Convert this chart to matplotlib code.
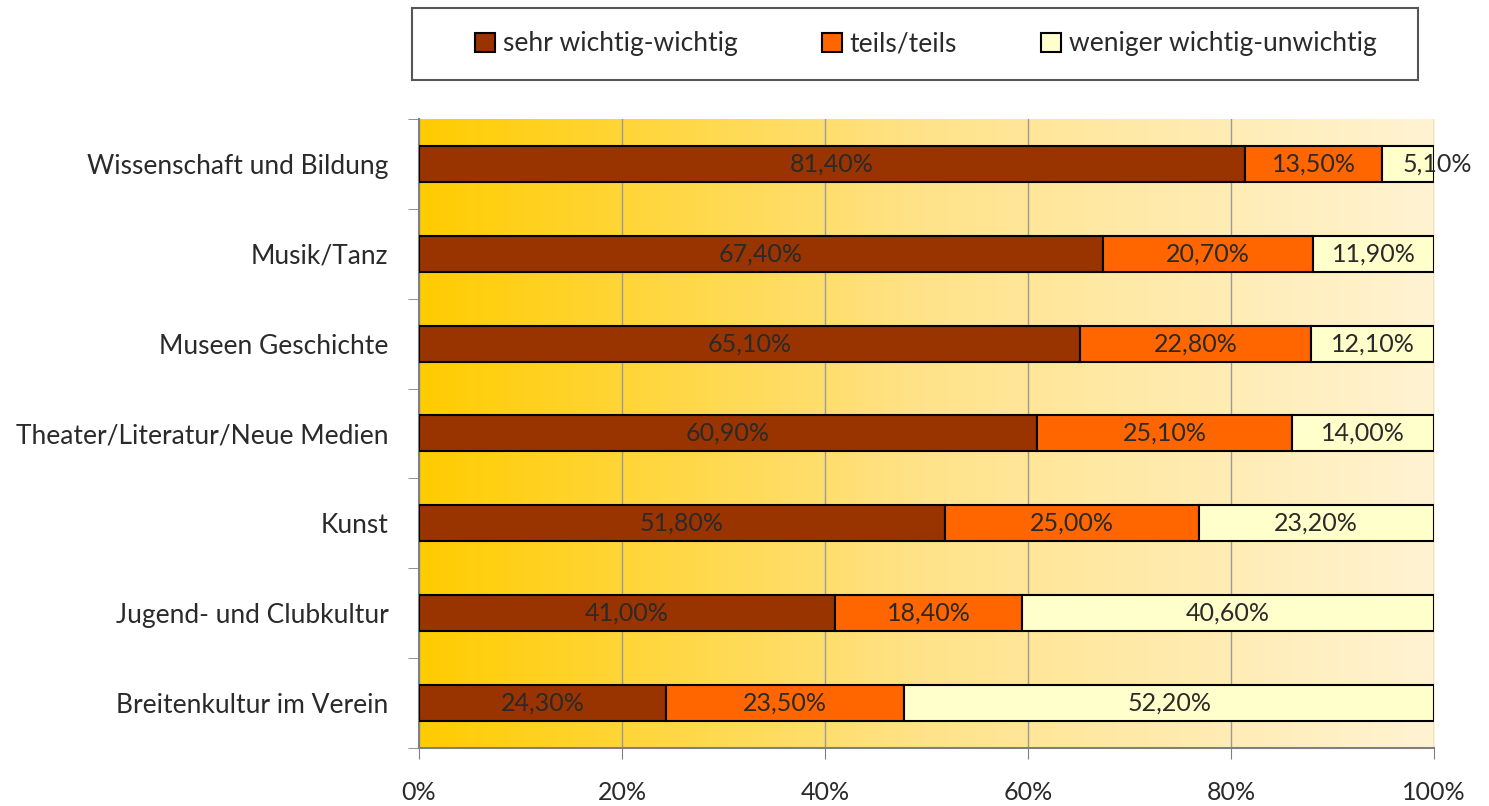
import numpy as np
import matplotlib.pyplot as plt
from matplotlib.colors import LinearSegmentedColormap
from matplotlib.patches import Patch, Rectangle

categories = ["Wissenschaft und Bildung", "Musik/Tanz", "Museen Geschichte",
              "Theater/Literatur/Neue Medien", "Kunst", "Jugend- und Clubkultur",
              "Breitenkultur im Verein"]
wichtig = [81.4, 67.4, 65.1, 60.9, 51.8, 41.0, 24.3]
teils = [13.5, 20.7, 22.8, 25.1, 25.0, 18.4, 23.5]
unwichtig = [5.1, 11.9, 12.1, 14.0, 23.2, 40.6, 52.2]
series_names = ["sehr wichtig-wichtig", "teils/teils", "weniger wichtig-unwichtig"]
colors = ["#993300", "#FF6600", "#FFFFCC"]

plt.rcParams['font.family'] = ['Lato', 'DejaVu Sans']
txt = "#2a2a2a"

fig = plt.figure(figsize=(14.89, 8.06), dpi=100)
ax = fig.add_axes([0.2814, 0.072, 0.6817, 0.7804])

# background gradient
grad = LinearSegmentedColormap.from_list("bg", ["#FFCC00", "#FFE38A", "#FFF3D2"])
ax.imshow(np.linspace(0, 1, 256).reshape(1, -1), cmap=grad, aspect='auto',
          extent=[0, 100, -0.5, len(categories) - 0.5], zorder=0)

y = np.arange(len(categories))[::-1]
left = np.zeros(len(categories))
for vals, col, name in zip([wichtig, teils, unwichtig], colors, series_names):
    vals = np.array(vals)
    ax.barh(y, vals, left=left, height=0.4, color=col, edgecolor="black",
            linewidth=1.5, zorder=3, label=name)
    for yi, l, v in zip(y, left, vals):
        label = "{:.2f}%".format(v).replace(".", ",")
        if v < 8:
            # label wider than the segment: start it just inside the segment
            ax.text(l + 2.0, yi, label, ha="left", va="center", fontsize=18,
                    color=txt, zorder=4, clip_on=False)
        else:
            ax.text(l + v / 2, yi, label, ha="center", va="center", fontsize=18,
                    color=txt, zorder=4, clip_on=False)
    left = left + vals

ax.set_xlim(0, 100)
ax.set_ylim(-0.5, len(categories) - 0.5)
ax.set_xticks(np.arange(0, 101, 20))
ax.set_xticklabels(["{}%".format(v) for v in range(0, 101, 20)], fontsize=18, color=txt)
ax.set_yticks(y)
ax.set_yticklabels(categories, fontsize=19, color=txt)
ax.set_yticks(np.arange(-0.5, len(categories), 1), minor=True)
ax.tick_params(axis="y", which="major", length=0, pad=22)
ax.tick_params(axis="y", which="minor", length=8, color="#808080", direction="out")
ax.tick_params(axis="x", length=8, color="#808080", direction="out", pad=16)
ax.grid(axis="x", color="#999999", linewidth=1, zorder=1)
ax.set_axisbelow(True)
for s in ["top", "right"]:
    ax.spines[s].set_visible(False)
for s in ["left", "bottom"]:
    ax.spines[s].set_color("#808080")
    ax.spines[s].set_linewidth(1.5)

# legend box
fig.patches.append(Rectangle((412 / 1489, 1 - 80 / 806), 1006 / 1489, 72 / 806,
                             transform=fig.transFigure, facecolor="white",
                             edgecolor="#555555", linewidth=1.5))
handles = [Patch(facecolor=c, edgecolor="black", linewidth=1.5) for c in colors]
leg = fig.legend(handles, series_names, loc="center", ncol=3,
                 bbox_to_anchor=(926 / 1489, 1 - 44 / 806),
                 fontsize=19, frameon=False,
                 handlelength=0.75, handleheight=0.75, handletextpad=0.3,
                 columnspacing=3.2)
for t in leg.get_texts():
    t.set_color(txt)

fig.savefig("out.png", dpi=100)
